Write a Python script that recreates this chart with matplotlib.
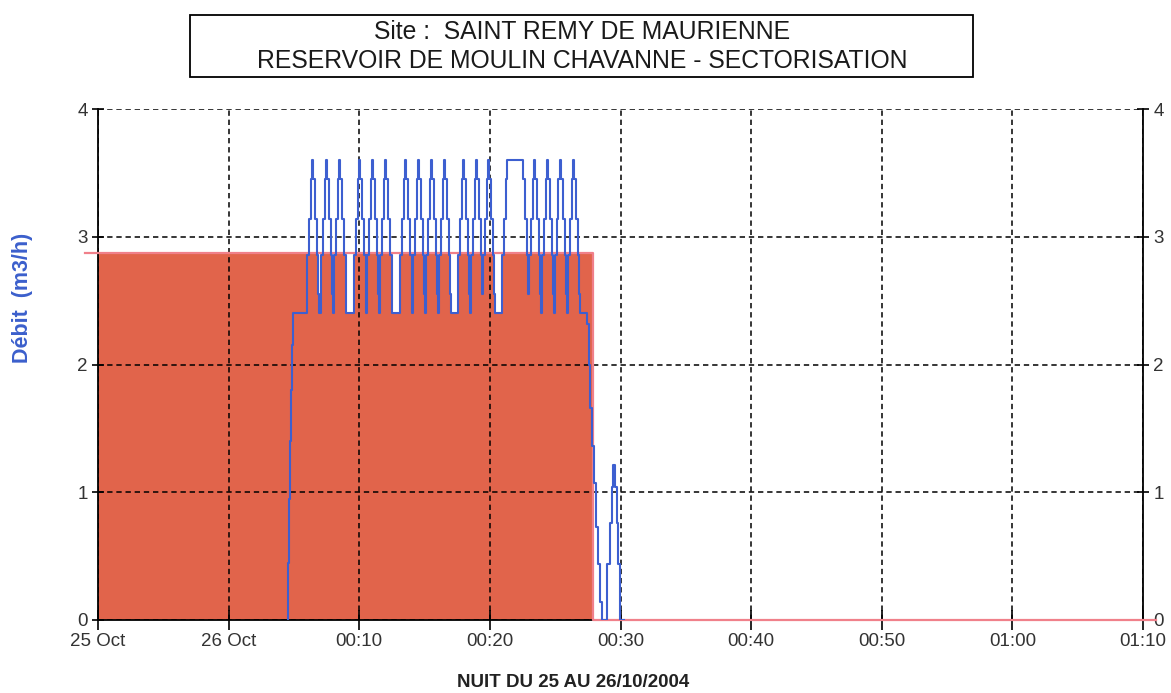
import numpy as np
import matplotlib.pyplot as plt
from matplotlib.patches import Rectangle

plt.rcParams["font.family"] = ["Liberation Sans", "DejaVu Sans"]

# x in minutes relative to 26/10/2004 00:00 (axis 23:50 -> 01:10)
TICK_MIN = [-10, 0, 10, 20, 30, 40, 50, 60, 70]
TICK_LABELS = ["25 Oct", "26 Oct", "00:10", "00:20", "00:30",
               "00:40", "00:50", "01:00", "01:10"]
Y_TICKS = [0, 1, 2, 3, 4]

# red series (threshold, step)
RED_T = [-11.0, 27.87, 71.0]
RED_V = [2.87, 0.0, 0.0]

# blue series (measured flow)
RAMP_T = [4.54, 4.58, 4.64, 4.72, 4.80, 4.88, 4.94]
RAMP_V = [0.0, 0.45, 0.95, 1.4, 1.8, 2.15, 2.4]
PEAK_T = [6.45, 7.52, 8.52, 10.05, 11.04, 12.04, 13.57, 14.56, 15.55,
          16.55, 18.0, 19.0, 19.92, 21.95, 23.44, 24.43, 25.42, 26.42]
PEAK_FLAT = [0, 0, 0, 0, 0, 0, 0, 0, 0, 0, 0, 0, 0, 0.57, 0, 0, 0, 0]
BASE = 2.4
PULSE_LEVELS = [2.55, 2.86, 3.14, 3.45, 3.6]
PULSE_HALF = [0.47, 0.43, 0.31, 0.17, 0.04]
TAIL_T = [27.41, 27.59, 27.67, 27.82, 27.97, 28.10, 28.26, 28.43, 28.56,
          29.0, 29.20, 29.33, 29.46, 29.58, 29.71, 29.84, 29.96, 30.3]
TAIL_V = [2.32, 2.0, 1.66, 1.36, 1.07, 0.73, 0.44, 0.14, 0.0,
          0.44, 0.76, 1.04, 1.21, 1.04, 0.76, 0.44, 0.0, 0.0]


def pulse_value(t):
    v = BASE
    for pk, fl in zip(PEAK_T, PEAK_FLAT):
        d = abs(t - pk) - fl
        for lev, hw in zip(PULSE_LEVELS, PULSE_HALF):
            if d < hw:
                v = max(v, lev)
    return v


# step breakpoints of the pulse train
edges = set()
for pk, fl in zip(PEAK_T, PEAK_FLAT):
    for hw in PULSE_HALF:
        edges.add(round(pk - hw - fl, 4))
        edges.add(round(pk + hw + fl, 4))
edges = sorted(e for e in edges if RAMP_T[-1] < e < TAIL_T[0])
mid_t = [RAMP_T[-1]] + edges
mid_v = []
for i, e in enumerate(mid_t):
    nxt = mid_t[i + 1] if i + 1 < len(mid_t) else TAIL_T[0]
    mid_v.append(pulse_value((e + nxt) / 2))

blue_t = np.array(RAMP_T[:-1] + mid_t + TAIL_T)
blue_v = np.array(RAMP_V[:-1] + mid_v + TAIL_V)

RED = "#E1644B"
RED_LINE = "#F0808A"
BLUE = "#3D5FD0"

fig = plt.figure(figsize=(11.71, 6.93), dpi=100)
ax = fig.add_axes([98 / 1171, 73 / 693, 1045 / 1171, 511 / 693])

ax.fill_between(RED_T, RED_V, 0, step="post", color=RED, lw=0, zorder=1)

# light valleys of the pulse train inside the red area
i0 = np.searchsorted(blue_t, PEAK_T[0])
i1 = np.searchsorted(blue_t, PEAK_T[-1])
wt = blue_t[i0:i1 + 1]
wv = np.minimum(blue_v[i0:i1 + 1], RED_V[0])
ax.fill_between(wt, wv, RED_V[0], step="post", color="white", lw=0, zorder=1.5)

ax.plot(RED_T, RED_V, drawstyle="steps-post", color=RED_LINE, lw=1.6,
        clip_on=False, zorder=3)
ax.plot(blue_t, blue_v, drawstyle="steps-post", color=BLUE, lw=1.5, zorder=4)

ax.set_xlim(-10, 70)
ax.set_ylim(0, 4)
ax.set_xticks(TICK_MIN)
ax.set_xticklabels(TICK_LABELS)
ax.set_yticks(Y_TICKS)

ax.grid(True, color="black", linestyle=(0, (3.5, 2.5)), lw=1.1, zorder=5)
ax.set_axisbelow(False)
for gl in ax.get_xgridlines() + ax.get_ygridlines():
    gl.set_zorder(5)

ax.spines["top"].set_visible(False)
for s in ["left", "right", "bottom"]:
    ax.spines[s].set_color("black")
    ax.spines[s].set_linewidth(1.3)
    ax.spines[s].set_zorder(2.5)

ax.tick_params(axis="y", which="both", left=True, right=True,
               labelleft=True, labelright=True, direction="out",
               length=9, width=1.2, pad=3, labelsize=13.5, labelcolor="#333333")
ax.tick_params(axis="y", which="both", right=True, direction="inout")
ax.tick_params(axis="x", direction="inout", length=14, width=1.2, pad=2,
               labelsize=13.5, labelcolor="#333333")

ax.set_ylabel("Débit  (m3/h)", color="#3B5FCC", fontsize=15.5,
              fontweight="bold")
ax.yaxis.set_label_coords(-0.062, 0.63)

ax.set_xlabel("NUIT DU 25 AU 26/10/2004", fontsize=13.5, fontweight="bold",
              color="#222222")
ax.xaxis.set_label_coords(0.455, -0.105)

# title box
fig.add_artist(Rectangle((190 / 1171, 1 - 77 / 693), 783 / 1171, 62 / 693,
                         transform=fig.transFigure, fill=False,
                         edgecolor="black", lw=1.3))
fig.text(582 / 1171, 1 - 32 / 693, "Site :  SAINT REMY DE MAURIENNE",
         ha="center", va="center", fontsize=17.8, color="#1a1a1a")
fig.text(582 / 1171, 1 - 61 / 693,
         "RESERVOIR DE MOULIN CHAVANNE - SECTORISATION",
         ha="center", va="center", fontsize=17.8, color="#1a1a1a")

fig.savefig("out.png", dpi=100)
